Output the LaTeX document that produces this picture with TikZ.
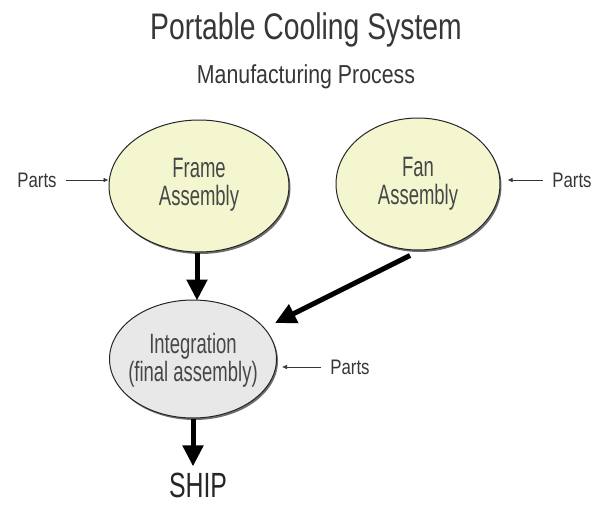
\documentclass[tikz,border=0pt]{standalone}
\usepackage{fontspec}
\setmainfont[FakeStretch=0.8]{Liberation Sans}
\newfontfamily\titlefont[FakeStretch=0.765]{Liberation Sans}
\newfontfamily\subfont[FakeStretch=0.82]{Liberation Sans}
\newfontfamily\stagefont[FakeStretch=0.66]{Liberation Sans}
\newfontfamily\shipfont[FakeStretch=0.71]{Liberation Sans}
\usetikzlibrary{arrows.meta,shadows,shapes.geometric}
\definecolor{paleyellow}{RGB}{244,246,208}
\definecolor{palegray}{RGB}{232,232,232}
\definecolor{inkgray}{RGB}{55,55,55}
\tikzset{
  x=1pt,y=-1pt,
  stage/.style={ellipse, draw=black!85, line width=1pt, inner sep=0pt,
    drop shadow={shadow xshift=1.5pt, shadow yshift=-2pt, fill=black!70, opacity=0.8}},
  stagetext/.style={align=center, text=black!72, inner sep=0pt,
    font=\stagefont\fontsize{28}{28}\selectfont},
  flow/.style={line width=5pt, -{Triangle[length=21pt,width=20pt]}},
  feed/.style={line width=0.6pt, draw=inkgray, -{Latex[length=5pt,width=4.5pt]}},
  partlbl/.style={text=inkgray, font=\fontsize{21}{24}\selectfont},
}
\begin{document}
\begin{tikzpicture}
\useasboundingbox (0,0) rectangle (594,506);
\fill[white] (0,0) rectangle (594,506);

% titles
\node[anchor=base, text=inkgray, font=\titlefont\fontsize{37}{40}\selectfont] (title) at (306,39) {Portable Cooling System};
\node[anchor=base, text=inkgray, font=\subfont\fontsize{26}{30}\selectfont] (subtitle) at (306,83) {Manufacturing Process};

% process stages
\node[stage, fill=paleyellow, minimum width=180pt, minimum height=132pt] (frame) at (199,186) {};
\node[stagetext] (frameT) at ([yshift=1pt]frame) {Frame\\Assembly};
\node[stage, fill=paleyellow, minimum width=164pt, minimum height=132pt] (fan) at (418,184) {};
\node[stagetext] (fanT) at (fan) {Fan\\Assembly};
\node[stage, fill=palegray, minimum width=167pt, minimum height=118pt] (integ) at (193,359) {};
\node[stagetext] (integT) at ([yshift=-1pt]integ) {Integration\\(final assembly)};
\node[anchor=base, font=\shipfont\fontsize{35}{40}\selectfont, text=black!85, inner sep=1pt] (ship) at (198,497) {SHIP};

% incoming parts
\node[partlbl] (pA) at (37,180) {Parts};
\node[partlbl] (pB) at (572,180) {Parts};
\node[partlbl] (pC) at (350,367) {Parts};
\draw[feed] (pA.east) ++(6,0) coordinate (pAe) -- (frame.west |- pAe);
\draw[feed] (pB.west) ++(-6,0) coordinate (pBw) -- ([xshift=7pt]fan.east |- pBw);
\draw[feed] (pC.west) ++(-6,0) coordinate (pCw) -- ([xshift=5pt]integ.east |- pCw);

% main flow
\draw[flow] ([xshift=-2pt]frame.south) -- ([xshift=-2pt,yshift=-1pt]frame.south |- integ.north);
\draw[flow] ([xshift=-8pt,yshift=-5pt]fan.south) -- ([xshift=82pt,yshift=36pt]integ.center);
\draw[flow] (integ.south) -- ([yshift=5pt]integ.south |- ship.north);
\end{tikzpicture}
\end{document}
